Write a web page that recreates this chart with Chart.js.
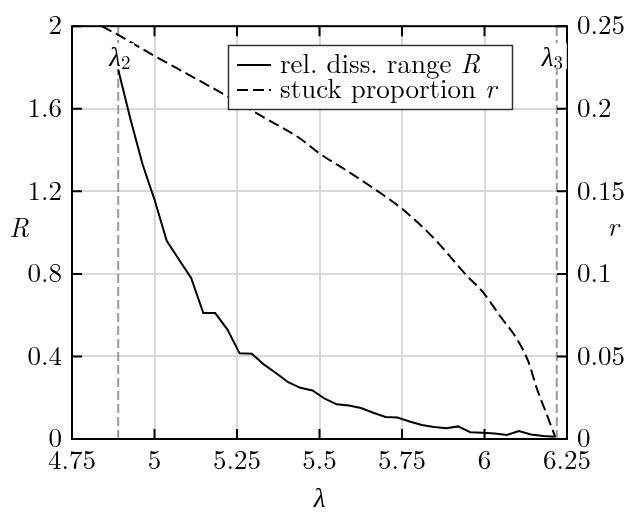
<!DOCTYPE html>
<html><head><meta charset="utf-8">
<script src="https://cdn.jsdelivr.net/npm/chart.js@4/dist/chart.umd.min.js"></script>
<style>html,body{margin:0;padding:0;background:#fff}#wrap{width:629px;height:519px}</style>
</head><body><div id="wrap"><canvas id="c" width="629" height="519"></canvas></div>
<script>
// relative dissipation range R (left axis)
const lambdaR = [4.890,4.927,4.964,5.000,5.037,5.074,5.111,5.148,5.184,5.221,5.258,5.295,5.332,5.368,5.405,5.442,5.479,5.516,5.552,5.589,5.626,5.663,5.700,5.736,5.773,5.810,5.847,5.884,5.920,5.957,5.994,6.031,6.068,6.104,6.141,6.178,6.215];
const valuesR  = [1.79,1.55,1.33,1.16,0.96,0.87,0.78,0.61,0.61,0.53,0.415,0.413,0.36,0.32,0.275,0.248,0.235,0.195,0.168,0.162,0.15,0.127,0.107,0.104,0.085,0.068,0.058,0.052,0.061,0.033,0.030,0.027,0.020,0.038,0.022,0.014,0.011];
// stuck proportion r (right axis)
const lambdaS = [4.84,4.89,5.00,5.10,5.219,5.33,5.441,5.498,5.592,5.688,5.749,5.845,5.946,5.996,6.047,6.098,6.133,6.158,6.188,6.214];
const valuesS = [0.2500,0.2447,0.2320,0.2210,0.2078,0.1949,0.1820,0.1732,0.1613,0.1485,0.1396,0.1219,0.0990,0.0888,0.0745,0.0606,0.0468,0.031,0.0152,0.0014];
// critical values
const lambda2 = 4.89, lambda3 = 6.219;
// ticks
const xTicks = [4.75,5,5.25,5.5,5.75,6,6.25];
const xTickLabels = ['4.75','5','5.25','5.5','5.75','6','6.25'];
const yTicksR = [0,0.4,0.8,1.2,1.6,2];
const yTickLabelsR = ['0','0.4','0.8','1.2','1.6','2'];
const yTicksS = [0,0.05,0.1,0.15,0.2,0.25];
const yTickLabelsS = ['0','0.05','0.1','0.15','0.2','0.25'];
const legendLabels = [['rel. diss. range ','R'],['stuck proportion ','r']];

const SERIF = '"Latin Modern Roman", "Liberation Serif", serif';
const FS = 27;

function labelFor(ticks, labels, v){
  for (let i=0;i<ticks.length;i++) if (Math.abs(ticks[i]-v)<1e-9) return labels[i];
  return '';
}

const deco = {
  id:'deco',
  afterDatasetsDraw(chart){
    const ctx = chart.ctx, a = chart.chartArea;
    const xs = chart.scales.x, ys = chart.scales.y;
    ctx.save();
    // frame
    ctx.strokeStyle = '#000'; ctx.lineWidth = 2;
    ctx.strokeRect(a.left, a.top, a.right-a.left, a.bottom-a.top);
    // inward ticks
    ctx.beginPath();
    xTicks.forEach(v=>{ const p = xs.getPixelForValue(v);
      ctx.moveTo(p,a.bottom); ctx.lineTo(p,a.bottom-10);
      ctx.moveTo(p,a.top); ctx.lineTo(p,a.top+10); });
    yTicksR.forEach(v=>{ const p = ys.getPixelForValue(v);
      ctx.moveTo(a.left,p); ctx.lineTo(a.left+10,p);
      ctx.moveTo(a.right,p); ctx.lineTo(a.right-10,p); });
    ctx.stroke();
    // lambda labels
    const drawLam = (cx, sub) => {
      ctx.fillStyle = '#fff';
      ctx.fillRect(cx-11, a.top+17, 27, 26);
      ctx.fillStyle = '#000';
      ctx.textBaseline = 'alphabetic'; ctx.textAlign = 'left';
      ctx.font = 'italic '+FS+'px '+SERIF;
      ctx.fillText('λ', cx-9, a.top+40);
      const w = ctx.measureText('λ').width;
      ctx.font = '19px '+SERIF;
      ctx.fillText(sub, cx-9+w, a.top+43);
    };
    drawLam(xs.getPixelForValue(lambda2), '2');
    drawLam(xs.getPixelForValue(lambda3)-6, '3');
    // legend
    const lx = 228.5, ly = 45.5, lw = 284, lh = 64;
    ctx.fillStyle = '#fff'; ctx.fillRect(lx,ly,lw,lh);
    ctx.strokeStyle = '#333'; ctx.lineWidth = 1.5; ctx.strokeRect(lx,ly,lw,lh);
    ctx.strokeStyle = '#000'; ctx.lineWidth = 2;
    [65, 90].forEach((yy,i)=>{
      ctx.setLineDash(i===0?[]:[11,5]);
      ctx.beginPath(); ctx.moveTo(237,yy); ctx.lineTo(271,yy); ctx.stroke();
    });
    ctx.setLineDash([]);
    ctx.fillStyle = '#000'; ctx.textAlign='left'; ctx.textBaseline='alphabetic';
    legendLabels.forEach((lab,i)=>{
      const by = i===0?73:98;
      ctx.font = FS+'px '+SERIF;
      ctx.fillText(lab[0], 280, by);
      const w = ctx.measureText(lab[0]).width;
      ctx.font = 'italic '+FS+'px '+SERIF;
      ctx.fillText(lab[1], 280+w, by);
    });
    // axis titles
    ctx.font = 'italic '+FS+'px '+SERIF;
    ctx.textAlign='center'; ctx.textBaseline='middle';
    ctx.fillText('R', 19, 229);
    ctx.fillText('r', 613, 228);
    ctx.fillText('λ', (a.left+a.right)/2, 499);
    ctx.restore();
  }
};

const tickFont = {family: SERIF, size: FS};
new Chart(document.getElementById('c'), {
  type:'line',
  data:{ datasets:[
    {label:'R', data: lambdaR.map((x,i)=>({x, y: valuesR[i]})), yAxisID:'y',
     borderColor:'#000', borderWidth:2, pointRadius:0, tension:0, fill:false},
    {label:'r', data: lambdaS.map((x,i)=>({x, y: valuesS[i]})), yAxisID:'y2',
     borderColor:'#000', borderWidth:2, borderDash:[11,5], pointRadius:0, cubicInterpolationMode:'monotone', fill:false},
    {label:'l2', data:[{x:lambda2,y:0},{x:lambda2,y:2}], yAxisID:'y',
     borderColor:'#999', borderWidth:2, borderDash:[9,4], pointRadius:0},
    {label:'l3', data:[{x:lambda3,y:0},{x:lambda3,y:2}], yAxisID:'y',
     borderColor:'#999', borderWidth:2, borderDash:[9,4], pointRadius:0}
  ]},
  options:{
    responsive:false, animation:false, devicePixelRatio:1,
    layout:{padding:{top:17,left:0,right:0,bottom:0}},
    plugins:{legend:{display:false}, tooltip:{enabled:false}},
    scales:{
      x:{type:'linear', min:4.75, max:6.25,
        afterBuildTicks:s=>{s.ticks = xTicks.map(v=>({value:v}));},
        afterFit:s=>{s.height = 80;},
        ticks:{font:tickFont, color:'#000', padding:6, maxRotation:0, autoSkip:false,
          callback:v=>labelFor(xTicks,xTickLabels,v)},
        grid:{color:'#d9d9d9', lineWidth:2, drawTicks:false}, border:{display:false}},
      y:{type:'linear', position:'left', min:0, max:2,
        afterBuildTicks:s=>{s.ticks = yTicksR.map(v=>({value:v}));},
        afterFit:s=>{s.width = 72;},
        ticks:{font:tickFont, color:'#000', padding:10, autoSkip:false,
          callback:v=>labelFor(yTicksR,yTickLabelsR,v)},
        grid:{color:'#d9d9d9', lineWidth:2, drawTicks:false}, border:{display:false}},
      y2:{type:'linear', position:'right', min:0, max:0.25,
        afterBuildTicks:s=>{s.ticks = yTicksS.map(v=>({value:v}));},
        afterFit:s=>{s.width = 62;},
        ticks:{font:tickFont, color:'#000', padding:10, autoSkip:false,
          callback:v=>labelFor(yTicksS,yTickLabelsS,v)},
        grid:{display:false, drawTicks:false}, border:{display:false}}
    }
  },
  plugins:[deco]
});
</script>
</body></html>
